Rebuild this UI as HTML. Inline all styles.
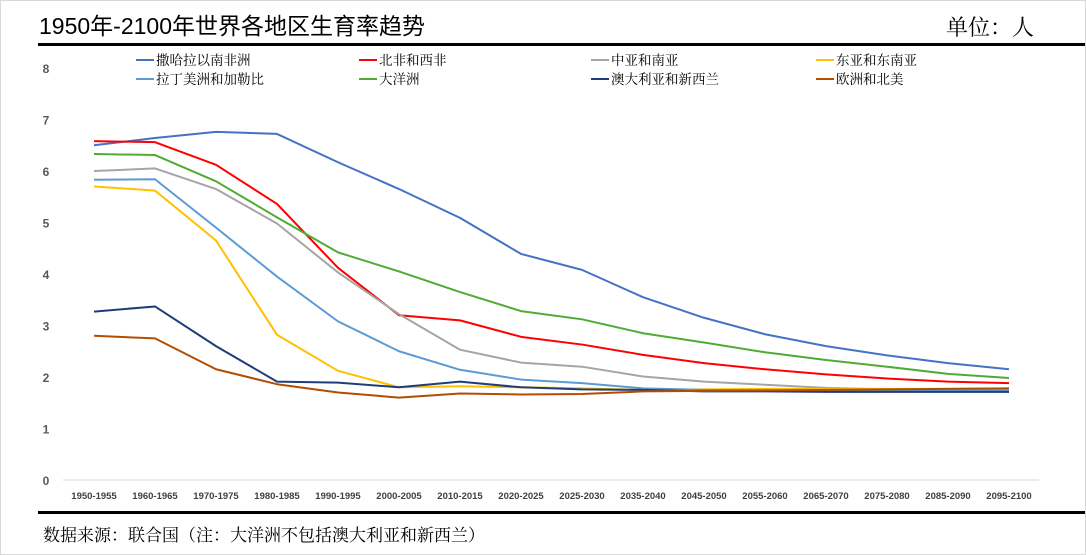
<!DOCTYPE html>
<html><head><meta charset="utf-8"><style>
body{margin:0;background:#fff;}
#wrap{position:relative;width:1084px;height:553px;border:1px solid #d9d9d9;overflow:hidden;font-family:"Liberation Sans","Noto Sans CJK SC",sans-serif;}
</style></head><body>
<div id="wrap">
<svg id="svg" width="1084" height="553" xmlns="http://www.w3.org/2000/svg">
<text x="38" y="33" font-size="23" fill="#000" font-family="Liberation Sans, Noto Sans CJK SC, sans-serif">1950年-2100年世界各地区生育率趋势</text>
<text x="1033" y="34" font-size="22" fill="#000" text-anchor="end" font-family="Noto Serif CJK SC, serif">单位：人</text>
<rect x="37" y="42" width="1047" height="3" fill="#000"/>
<rect x="37" y="510" width="1047" height="3" fill="#000"/>
<text x="42" y="540" font-size="17" fill="#000" font-family="Noto Serif CJK SC, serif">数据来源：联合国（注：大洋洲不包括澳大利亚和新西兰）</text>
<g id="grid"></g><g id="lines"></g><g id="legend"></g>
</svg>
</div>
<script>
const categories=["1950-1955","1960-1965","1970-1975","1980-1985","1990-1995","2000-2005","2010-2015","2020-2025","2025-2030","2035-2040","2045-2050","2055-2060","2065-2070","2075-2080","2085-2090","2095-2100"];
const yTicks=[0,1,2,3,4,5,6,7,8];
const seriesNames=["撒哈拉以南非洲","北非和西非","中亚和南亚","东亚和东南亚","拉丁美洲和加勒比","大洋洲","澳大利亚和新西兰","欧洲和北美"];
const seriesColors=["#4472c4","#ff0000","#a5a5a5","#ffc000","#5b9bd5","#4eac34","#1f3d7a","#b34d00"];
const ssAfrica=[6.5,6.64,6.76,6.72,6.17,5.65,5.09,4.39,4.08,3.55,3.15,2.83,2.6,2.42,2.27,2.15];
const nwAfrica=[6.58,6.56,6.12,5.36,4.12,3.2,3.1,2.78,2.63,2.43,2.27,2.15,2.05,1.97,1.91,1.88];
const csAsia=[6.0,6.05,5.65,4.98,4.03,3.22,2.53,2.28,2.2,2.01,1.91,1.85,1.79,1.76,1.75,1.75];
const eseAsia=[5.7,5.62,4.65,2.82,2.12,1.8,1.82,1.8,1.78,1.75,1.76,1.77,1.77,1.77,1.77,1.78];
const latam=[5.83,5.84,4.9,3.95,3.08,2.5,2.14,1.95,1.88,1.78,1.75,1.74,1.73,1.73,1.73,1.73];
const oceania=[6.33,6.31,5.8,5.1,4.42,4.05,3.65,3.28,3.12,2.85,2.67,2.48,2.33,2.2,2.06,1.98];
const ausNz=[3.27,3.37,2.6,1.91,1.89,1.8,1.91,1.8,1.76,1.75,1.72,1.72,1.71,1.71,1.71,1.71];
const euNa=[2.8,2.75,2.15,1.86,1.7,1.6,1.68,1.66,1.67,1.72,1.73,1.74,1.75,1.76,1.77,1.78];
const allSeries=[ssAfrica,nwAfrica,csAsia,eseAsia,latam,oceania,ausNz,euNa];
const NS="http://www.w3.org/2000/svg";
const x0=93,x1=1008,yBase=479,yTop=67,yMax=8;
const xs=i=>x0+(x1-x0)*i/(categories.length-1);
const ys=v=>yBase-(yBase-yTop)*v/yMax;
function mk(t,a,p){const e=document.createElementNS(NS,t);for(const k in a)e.setAttribute(k,a[k]);p.appendChild(e);return e;}
const grid=document.getElementById('grid');
const ax=mk('line',{x1:62,x2:1038,y1:ys(0),y2:ys(0),stroke:'#d9d9d9','stroke-width':1},grid);


yTicks.forEach(t=>{const e=mk('text',{x:45,y:ys(t)+5,'font-size':12,'font-weight':'bold',fill:'#595959','text-anchor':'middle'},grid);e.textContent=t;

});
categories.forEach((c,i)=>{const e=mk('text',{x:xs(i),y:498,'font-size':9.5,'font-weight':'bold',fill:'#404040','text-anchor':'middle'},grid);e.textContent=c;

});
const lines=document.getElementById('lines');
allSeries.forEach((s,k)=>{const p=mk('polyline',{points:s.map((v,i)=>xs(i)+','+ys(v)).join(' '),fill:'none',stroke:seriesColors[k],'stroke-width':2,'stroke-linejoin':'round'},lines);

});
const lg=document.getElementById('legend');
const lx=[135,358,590,815],ly=[59,78];
seriesNames.forEach((n,k)=>{const x=lx[k%4],y=ly[Math.floor(k/4)];
const g=mk('g',{},lg);


mk('line',{x1:x,x2:x+18,y1:y,y2:y,stroke:seriesColors[k],'stroke-width':2},g);
const t=mk('text',{x:x+20,y:y+5,'font-size':13.5,fill:'#000','font-family':'Noto Serif CJK SC, serif'},g);t.textContent=n;});
</script>
</body></html>
